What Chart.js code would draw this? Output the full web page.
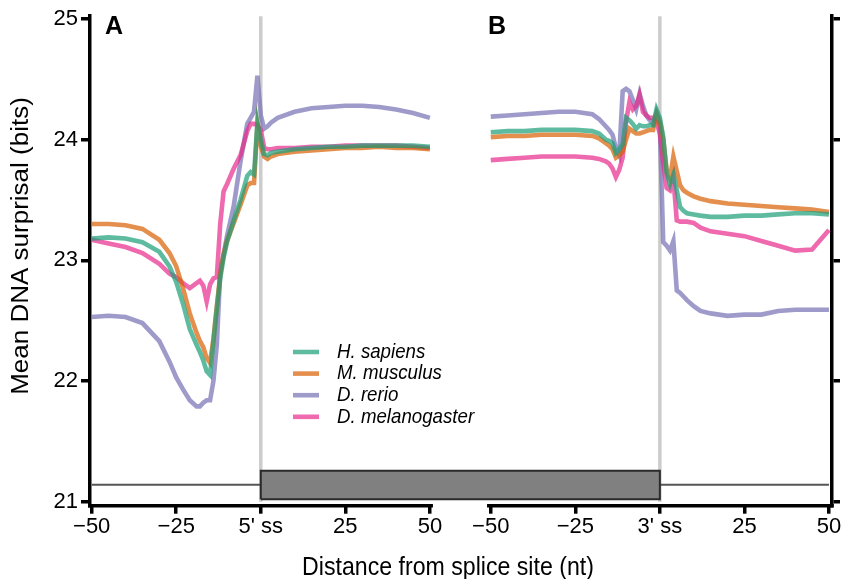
<!DOCTYPE html>
<html>
<head>
<meta charset="utf-8">
<script src="https://cdn.jsdelivr.net/npm/chart.js@4.4.1/dist/chart.umd.min.js"></script>
<style>
html, body { margin: 0; padding: 0; background: #fff; }
canvas { display: block; }
</style>
</head>
<body>
<canvas id="surprisalChart" width="845" height="579"></canvas>
<script>
const species = ['H. sapiens', 'M. musculus', 'D. rerio', 'D. melanogaster'];
const colors = ['rgba(27,158,119,0.7)', 'rgba(217,95,2,0.7)', 'rgba(117,112,179,0.7)', 'rgba(231,41,138,0.7)'];

// panel A: distance from the 5' splice site (nt)
const posA = [-50, -45, -40, -35, -30, -27, -25, -23, -21, -19, -18, -17, -16, -15, -14, -13, -12, -11, -10, -8, -6, -4, -3, -2, -1, 0, 1, 2, 3, 5, 10, 15, 20, 25, 30, 35, 40, 45, 50];
const sapiensA = [23.18, 23.19, 23.18, 23.15, 23.07, 22.95, 22.82, 22.64, 22.43, 22.30, 22.24, 22.17, 22.08, 22.05, 22.33, 22.60, 22.85, 23.02, 23.15, 23.33, 23.50, 23.70, 23.73, 23.71, 24.14, 24.00, 23.88, 23.87, 23.89, 23.90, 23.92, 23.93, 23.94, 23.94, 23.95, 23.95, 23.95, 23.95, 23.94];
const musculusA = [23.30, 23.30, 23.29, 23.26, 23.17, 23.06, 22.95, 22.77, 22.56, 22.40, 22.33, 22.28, 22.19, 22.15, 22.35, 22.62, 22.88, 23.05, 23.16, 23.31, 23.46, 23.62, 23.64, 23.64, 24.12, 23.95, 23.86, 23.84, 23.86, 23.88, 23.90, 23.91, 23.92, 23.93, 23.93, 23.94, 23.93, 23.93, 23.92];
const rerioA = [22.53, 22.54, 22.53, 22.48, 22.33, 22.16, 22.03, 21.93, 21.84, 21.79, 21.79, 21.82, 21.84, 21.84, 22.00, 22.30, 22.90, 23.05, 23.20, 23.45, 23.82, 24.13, 24.18, 24.23, 24.53, 24.20, 24.09, 24.11, 24.14, 24.18, 24.23, 24.26, 24.27, 24.28, 24.28, 24.27, 24.25, 24.22, 24.18];
const melanogasterA = [23.17, 23.14, 23.11, 23.06, 22.97, 22.89, 22.86, 22.81, 22.77, 22.81, 22.83, 22.79, 22.66, 22.80, 22.85, 22.86, 23.30, 23.57, 23.63, 23.76, 23.87, 24.07, 24.13, 24.13, 24.12, 24.08, 23.93, 23.92, 23.92, 23.93, 23.93, 23.94, 23.94, 23.95, 23.95, 23.95, 23.95, 23.94, 23.93];

// panel B: distance from the 3' splice site (nt)
const posB = [-50, -45, -40, -35, -30, -25, -20, -18, -16, -15, -14, -13, -12, -11, -10, -9, -8, -7, -6, -5, -4, -3, -2, -1, 0, 1, 2, 3, 4, 5, 6, 7, 8, 10, 12, 15, 20, 25, 30, 35, 40, 45, 50];
const sapiensB = [24.06, 24.07, 24.07, 24.08, 24.08, 24.08, 24.07, 24.05, 24.00, 23.99, 23.97, 23.89, 23.92, 23.96, 24.18, 24.16, 24.13, 24.09, 24.12, 24.11, 24.11, 24.12, 24.12, 24.25, 24.18, 24.02, 23.72, 23.63, 23.71, 23.58, 23.44, 23.41, 23.39, 23.38, 23.37, 23.36, 23.36, 23.37, 23.37, 23.38, 23.39, 23.39, 23.38];
const musculusB = [24.02, 24.03, 24.03, 24.04, 24.04, 24.04, 24.03, 24.01, 23.97, 23.95, 23.92, 23.85, 23.87, 23.90, 24.00, 24.09, 24.07, 24.05, 24.05, 24.06, 24.07, 24.08, 24.08, 24.21, 24.15, 24.00, 23.75, 23.68, 23.86, 23.74, 23.62, 23.58, 23.56, 23.53, 23.51, 23.49, 23.47, 23.46, 23.45, 23.44, 23.43, 23.42, 23.40];
const rerioB = [24.19, 24.20, 24.21, 24.22, 24.23, 24.23, 24.21, 24.17, 24.11, 24.08, 24.04, 23.93, 23.87, 24.40, 24.42, 24.40, 24.33, 24.25, 24.38, 24.28, 24.20, 24.16, 24.13, 24.22, 24.12, 23.15, 23.12, 23.08, 23.16, 22.75, 22.73, 22.70, 22.67, 22.62, 22.58, 22.56, 22.54, 22.55, 22.55, 22.58, 22.59, 22.59, 22.59];
const melanogasterB = [23.83, 23.84, 23.85, 23.86, 23.86, 23.86, 23.85, 23.84, 23.82, 23.80, 23.76, 23.69, 23.75, 23.85, 24.15, 24.31, 24.25, 24.28, 24.37, 24.23, 24.20, 24.18, 24.18, 24.15, 24.05, 23.80, 23.60, 23.58, 23.68, 23.33, 23.32, 23.32, 23.32, 23.31, 23.27, 23.24, 23.22, 23.20, 23.16, 23.12, 23.08, 23.09, 23.25];

const offsetB = 118;  // panel B is drawn to the right of panel A on the same x scale
const xTickPos = [-50, -25, 0, 25, 50];
const xLabelsA = ['\u221250', '\u221225', "5' ss", '25', '50'];
const xLabelsB = ['\u221250', '\u221225', "3' ss", '25', '50'];
const yTicks = [21, 22, 23, 24, 25];

// exon / intron sketch along the bottom
const intronLevel = 21.14;
const exonTop = 21.256;
const exonBottom = 21.02;

const FONT = "'Liberation Sans', Arial, Helvetica, sans-serif";
const SQUEEZE = 0.89;  // the original lettering is a little narrow

function series(vA, vB) {
    const pts = posA.map((p, i) => ({ x: p, y: vA[i] }));
    pts.push({ x: 59, y: null });
    posB.forEach((p, i) => pts.push({ x: p + offsetB, y: vB[i] }));
    return pts;
}

const allValues = [[sapiensA, sapiensB], [musculusA, musculusB], [rerioA, rerioB], [melanogasterA, melanogasterB]];
const drawOrder = [1, 2, 4, 3];

const datasets = species.map((name, i) => ({
    label: name,
    data: series(allValues[i][0], allValues[i][1]),
    borderColor: colors[i],
    borderWidth: 4.6,
    pointRadius: 0,
    tension: 0,
    spanGaps: false,
    order: drawOrder[i]
}));

datasets.push(
    { label: 'ss5', data: [{ x: 0, y: 21 }, { x: 0, y: 25.1 }], borderColor: '#cccccc', borderWidth: 3.5, pointRadius: 0, order: 10 },
    { label: 'ss3', data: [{ x: offsetB, y: 21 }, { x: offsetB, y: 25.1 }], borderColor: '#cccccc', borderWidth: 3.5, pointRadius: 0, order: 10 },
    { label: 'intronA', data: [{ x: -50, y: intronLevel }, { x: 0, y: intronLevel }], borderColor: '#555555', borderWidth: 2, pointRadius: 0, order: 9 },
    { label: 'intronB', data: [{ x: offsetB, y: intronLevel }, { x: offsetB + 50, y: intronLevel }], borderColor: '#555555', borderWidth: 2, pointRadius: 0, order: 9 },
    { label: 'exonFill', data: [{ x: 0, y: exonTop }, { x: offsetB, y: exonTop }], borderWidth: 0, borderColor: 'rgba(0,0,0,0)', backgroundColor: '#808080', fill: { value: exonBottom }, pointRadius: 0, order: 8 },
    { label: 'exonEdge', data: [{ x: 0, y: exonBottom }, { x: 0, y: exonTop }, { x: offsetB, y: exonTop }, { x: offsetB, y: exonBottom }, { x: 0, y: exonBottom }], borderColor: '#2a2a2a', borderWidth: 2, pointRadius: 0, order: 7 }
);

function squeezedText(ctx, text, x, y) {
    ctx.save();
    ctx.translate(x, y);
    ctx.scale(SQUEEZE, 1);
    ctx.fillText(text, 0, 0);
    ctx.restore();
}

const decor = {
    id: 'decor',
    afterDraw(chart) {
        const { ctx, chartArea, scales } = chart;
        const x = scales.x;
        ctx.save();
        // broken x axis
        ctx.strokeStyle = '#000';
        ctx.lineWidth = 3.5;
        ctx.beginPath();
        ctx.moveTo(chartArea.left - 1.75, chartArea.bottom);
        ctx.lineTo(x.getPixelForValue(50.9), chartArea.bottom);
        ctx.moveTo(x.getPixelForValue(66.9), chartArea.bottom);
        ctx.lineTo(chartArea.right + 1.75, chartArea.bottom);
        ctx.stroke();

        // legend
        ctx.textBaseline = 'middle';
        ctx.textAlign = 'left';
        ctx.font = 'italic 21px ' + FONT;
        species.forEach((name, i) => {
            const yy = 352 + i * 21.6;
            ctx.strokeStyle = colors[i];
            ctx.lineWidth = 4.6;
            ctx.beginPath();
            ctx.moveTo(293, yy);
            ctx.lineTo(319, yy);
            ctx.stroke();
            ctx.fillStyle = '#000';
            squeezedText(ctx, name, 337, yy);
        });

        // panel letters
        ctx.font = 'bold 25px ' + FONT;
        ctx.fillText('A', 105, 27);
        ctx.fillText('B', 488, 27);

        // axis titles
        ctx.font = '26px ' + FONT;
        ctx.textAlign = 'center';
        squeezedText(ctx, 'Distance from splice site (nt)', 448, 568);
        ctx.translate(22, 246);
        ctx.rotate(-Math.PI / 2);
        ctx.scale(1, SQUEEZE);
        ctx.fillText('Mean DNA surprisal (bits)', 0, 0);
        ctx.restore();
    }
};

const tickFont = { family: FONT, size: 22 };

new Chart(document.getElementById('surprisalChart'), {
    type: 'line',
    data: { datasets: datasets },
    plugins: [decor],
    options: {
        responsive: false,
        devicePixelRatio: 1,
        animation: false,
        layout: { padding: { top: 14, left: 0, right: 0, bottom: 0 } },
        plugins: { legend: { display: false }, tooltip: { enabled: false } },
        scales: {
            x: {
                type: 'linear',
                min: -50.5,
                max: 168.9,
                afterBuildTicks: (scale) => {
                    scale.ticks = xTickPos.map(v => ({ value: v })).concat(xTickPos.map(v => ({ value: v + offsetB })));
                },
                afterFit: (scale) => { scale.height = 73.3; },
                ticks: {
                    autoSkip: false,
                    maxRotation: 0,
                    color: '#000',
                    font: tickFont,
                    padding: 0,
                    callback: (value) => {
                        const iA = xTickPos.indexOf(value);
                        if (iA >= 0) return xLabelsA[iA];
                        const iB = xTickPos.indexOf(value - offsetB);
                        return iB >= 0 ? xLabelsB[iB] : '';
                    }
                },
                grid: { drawOnChartArea: false, drawTicks: true, tickLength: 8, lineWidth: 3.5, tickColor: '#000' },
                border: { display: false }
            },
            y: {
                position: 'left',
                min: 20.967,
                max: 25.022,
                afterBuildTicks: (scale) => { scale.ticks = yTicks.map(v => ({ value: v })); },
                afterFit: (scale) => { scale.width = 90; },
                ticks: { color: '#000', font: tickFont, padding: 3 },
                grid: { drawOnChartArea: false, drawTicks: true, tickLength: 9, lineWidth: 3.5, tickColor: '#000' },
                border: { display: true, color: '#000', width: 3.5 }
            },
            y2: {
                position: 'right',
                min: 20.967,
                max: 25.022,
                afterBuildTicks: (scale) => { scale.ticks = yTicks.map(v => ({ value: v })); },
                afterFit: (scale) => { scale.width = 13; },
                ticks: { callback: () => '', padding: 0 },
                grid: { drawOnChartArea: false, drawTicks: true, tickLength: 8, lineWidth: 3.5, tickColor: '#000' },
                border: { display: true, color: '#000', width: 3.5 }
            }
        }
    }
});
</script>
</body>
</html>
